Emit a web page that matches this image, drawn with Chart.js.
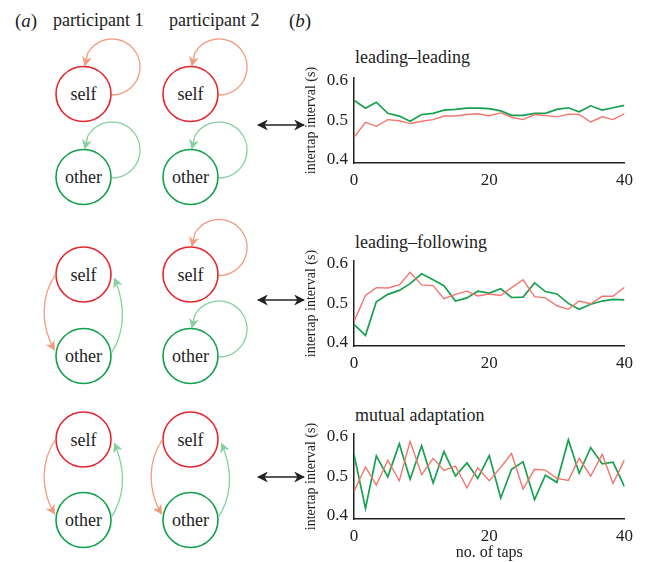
<!DOCTYPE html>
<html>
<head>
<meta charset="utf-8">
<script src="https://cdn.jsdelivr.net/npm/chart.js@4/dist/chart.umd.min.js"></script>
<style>
  html, body { margin: 0; padding: 0; background: #fff; overflow: hidden; }
  #wrap { position: relative; width: 648px; height: 562px; font-family: "Liberation Serif", serif; color: #222; }
  #diag { position: absolute; left: 0; top: 0; }
  canvas { position: absolute; left: 300px; }
  .title { position: absolute; left: 355px; font-size: 18px; line-height: 18px; white-space: nowrap; }
</style>
</head>
<body>
<div id="wrap">
  <svg id="diag" width="648" height="562"></svg>
  <div class="title" style="top:48px">leading–leading</div>
  <div class="title" style="top:233px">leading–following</div>
  <div class="title" style="top:406px">mutual adaptation</div>
  <canvas id="c1" width="340" height="129" style="top:62px"></canvas>
  <canvas id="c2" width="340" height="129" style="top:245px"></canvas>
  <canvas id="c3" width="340" height="145" style="top:418px"></canvas>
</div>
<script>
// tap positions (25 intervals over 40 taps)
const taps = [0, 1.7, 3.3, 5, 6.7, 8.3, 10, 11.7, 13.3, 15, 16.7, 18.3, 20, 21.7, 23.3, 25, 26.7, 28.3, 30, 31.7, 33.3, 35, 36.7, 38.3, 40];
const xTicks = [0, 20, 40];
const yTicks = [0.4, 0.5, 0.6];

// leading–leading
const llRed = [0.457, 0.495, 0.485, 0.502, 0.499, 0.492, 0.498, 0.502, 0.511, 0.511, 0.515, 0.517, 0.512, 0.519, 0.508, 0.502, 0.515, 0.512, 0.509, 0.516, 0.515, 0.496, 0.509, 0.502, 0.517];
const llGreen = [0.551, 0.531, 0.546, 0.518, 0.511, 0.498, 0.515, 0.518, 0.526, 0.528, 0.531, 0.531, 0.530, 0.524, 0.513, 0.513, 0.518, 0.518, 0.528, 0.532, 0.522, 0.537, 0.526, 0.532, 0.538];

// leading–following
const lfRed = [0.454, 0.520, 0.540, 0.539, 0.547, 0.579, 0.547, 0.545, 0.512, 0.523, 0.531, 0.519, 0.524, 0.520, 0.540, 0.560, 0.517, 0.514, 0.494, 0.485, 0.506, 0.499, 0.518, 0.518, 0.541];
const lfGreen = [0.447, 0.419, 0.504, 0.523, 0.533, 0.550, 0.575, 0.560, 0.545, 0.506, 0.514, 0.531, 0.526, 0.537, 0.515, 0.516, 0.552, 0.530, 0.524, 0.500, 0.485, 0.498, 0.506, 0.510, 0.509];

// mutual adaptation
const maRed = [0.462, 0.524, 0.478, 0.541, 0.489, 0.589, 0.504, 0.546, 0.515, 0.526, 0.471, 0.522, 0.489, 0.523, 0.558, 0.468, 0.518, 0.516, 0.495, 0.490, 0.546, 0.501, 0.556, 0.482, 0.542];
const maGreen = [0.556, 0.419, 0.552, 0.499, 0.583, 0.493, 0.578, 0.483, 0.563, 0.501, 0.534, 0.495, 0.553, 0.445, 0.518, 0.537, 0.441, 0.503, 0.485, 0.593, 0.508, 0.573, 0.532, 0.536, 0.474];

const RED = "#f2766e";
const GREEN = "#17a04e";

Chart.defaults.font.family = '"Liberation Serif", serif';
Chart.defaults.color = "#222";

function pts(ys) {
  return ys.map((y, i) => ({ x: taps[i], y: y }));
}

function makeChart(id, red, green, withXTitle) {
  return new Chart(document.getElementById(id), {
    type: "line",
    data: {
      datasets: [
        { data: pts(red), borderColor: RED, borderWidth: 1.4 },
        { data: pts(green), borderColor: GREEN, borderWidth: 1.7 },
      ],
    },
    options: {
      responsive: false,
      animation: false,
      layout: { padding: { top: 5, right: 15, left: 0, bottom: 0 } },
      elements: { point: { radius: 0 }, line: { tension: 0 } },
      plugins: { legend: { display: false }, tooltip: { enabled: false } },
      scales: {
        x: {
          type: "linear",
          min: 0,
          max: 40,
          grid: { display: false, drawTicks: false },
          border: { color: "#222", width: 1.5 },
          ticks: { font: { size: 17 }, padding: 7, maxRotation: 0 },
          afterBuildTicks: (s) => { s.ticks = xTicks.map((v) => ({ value: v })); },
          afterFit: (s) => { s.height = withXTitle ? 44 : 28; },
          title: {
            display: withXTitle,
            text: "no. of taps",
            font: { size: 16 },
            padding: { top: 0, bottom: 1 },
          },
        },
        y: {
          min: 0.392,
          max: 0.607,
          grid: { display: false, drawTicks: false },
          border: { color: "#222", width: 1.5 },
          ticks: { font: { size: 17 }, padding: 6, callback: (v) => Number(v).toFixed(1) },
          afterBuildTicks: (s) => { s.ticks = yTicks.map((v) => ({ value: v })); },
          afterFit: (s) => { s.width = 54; },
          title: {
            display: true,
            text: "intertap interval (s)",
            font: { size: 14 },
            padding: { top: 3, bottom: 0 },
          },
        },
      },
    },
  });
}

makeChart("c1", llRed, llGreen, false);
makeChart("c2", lfRed, lfGreen, false);
makeChart("c3", maRed, maGreen, true);

// ----- left-hand diagrams (panel a) -----
const NODE_RED = "#e5262f";
const NODE_GREEN = "#12a04a";
const ARR_RED = "#f39a7e";
const ARR_GREEN = "#86d1a0";

function node(cx, cy, label, color) {
  return `<circle cx="${cx}" cy="${cy}" r="27.5" fill="none" stroke="${color}" stroke-width="1.6"/>` +
    `<text x="${cx}" y="${cy + 6}" text-anchor="middle" font-size="18" fill="#222">${label}</text>`;
}

function loop(cx, cy, color, mk) {
  const d = `M${cx + 28.5},${cy + 1} A28,28 0 1 0 ${cx + 4.3},${cy - 41} L${cx + 1.5},${cy - 28.5}`;
  return `<path d="${d}" fill="none" stroke="${color}" stroke-width="1.3" marker-end="url(#${mk})"/>`;
}

function cross(cx, cys, cyo) {
  const a = `M${cx - 28},${cys} C${cx - 43},${cys + 22} ${cx - 43},${cyo - 30} ${cx - 29},${cyo - 6}`;
  const b = `M${cx + 28},${cyo - 3} C${cx + 42},${cyo - 25} ${cx + 42},${cys + 30} ${cx + 31},${cys + 4}`;
  return `<path d="${a}" fill="none" stroke="${ARR_RED}" stroke-width="1.3" marker-end="url(#mr)"/>` +
    `<path d="${b}" fill="none" stroke="${ARR_GREEN}" stroke-width="1.3" marker-end="url(#mg)"/>`;
}

function both(y) {
  return `<line x1="258" y1="${y}" x2="304" y2="${y}" stroke="#222" stroke-width="1.6" marker-start="url(#mk)" marker-end="url(#mk)"/>`;
}

const head = (id, c, w) =>
  `<marker id="${id}" viewBox="0 0 10 10" refX="9" refY="5" markerWidth="${w}" markerHeight="${w}" markerUnits="userSpaceOnUse" orient="auto-start-reverse">` +
  `<path d="M0,0 L10,5 L0,10 L3,5 z" fill="${c}"/></marker>`;

let s = "<defs>" + head("mr", ARR_RED, 10) + head("mg", ARR_GREEN, 10) + head("mk", "#222", 11) + "</defs>";

s += `<text x="15" y="27" font-size="19" fill="#222">(<tspan font-style="italic">a</tspan>)</text>`;
s += `<text x="53" y="26" font-size="18" fill="#222">participant 1</text>`;
s += `<text x="169" y="26" font-size="18" fill="#222">participant 2</text>`;
s += `<text x="289" y="27" font-size="19" fill="#222">(<tspan font-style="italic">b</tspan>)</text>`;

const X1 = 83.5, X2 = 190.5;

// row 1: both participants self + other loops
[X1, X2].forEach((x) => {
  s += loop(x, 94, ARR_RED, "mr") + node(x, 94, "self", NODE_RED);
  s += loop(x, 177, ARR_GREEN, "mg") + node(x, 177, "other", NODE_GREEN);
});
s += both(125);

// row 2: participant 1 crosses, participant 2 loops
s += node(X1, 274.5, "self", NODE_RED) + node(X1, 356, "other", NODE_GREEN) + cross(X1, 274.5, 356);
s += loop(X2, 274.5, ARR_RED, "mr") + node(X2, 274.5, "self", NODE_RED);
s += loop(X2, 356, ARR_GREEN, "mg") + node(X2, 356, "other", NODE_GREEN);
s += both(300);

// row 3: both cross
[X1, X2].forEach((x) => {
  s += node(x, 439.5, "self", NODE_RED) + node(x, 520, "other", NODE_GREEN) + cross(x, 439.5, 520);
});
s += both(477);

document.getElementById("diag").innerHTML = s;
</script>
</body>
</html>
